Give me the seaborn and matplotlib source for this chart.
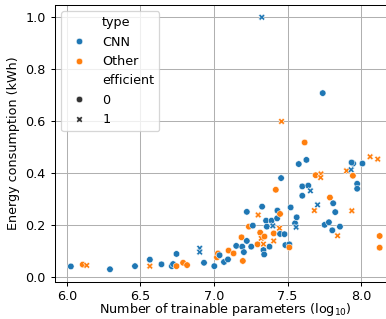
import matplotlib

matplotlib.use("Agg")
import matplotlib.pyplot as plt
import pandas as pd
import seaborn as sns

# log10 of trainable parameters, energy (kWh), model family, efficient flag
log_params = [
    6.027, 6.108, 6.135, 6.293, 6.463, 6.564, 6.564, 6.643, 6.713, 6.722,
    6.745, 6.745, 6.790, 6.817, 6.903, 6.903, 6.932, 7.002, 7.020, 7.027,
    7.038, 7.068, 7.095, 7.099, 7.133, 7.151, 7.187, 7.192, 7.196, 7.203,
    7.223, 7.223, 7.237, 7.264, 7.253, 7.300, 7.296, 7.314, 7.327, 7.321,
    7.343, 7.336, 7.341, 7.354, 7.359, 7.391, 7.377, 7.400, 7.406, 7.406,
    7.429, 7.431, 7.420, 7.445, 7.449, 7.456, 7.479, 7.485, 7.512, 7.512,
    7.521, 7.551, 7.562, 7.558, 7.576, 7.600, 7.600, 7.616, 7.628, 7.641,
    7.655, 7.691, 7.727, 7.725, 7.682, 7.704, 7.788, 7.810, 7.824, 7.752,
    7.781, 7.804, 7.840, 7.856, 7.937, 7.901, 7.932, 7.946, 7.935, 7.944,
    7.973, 7.973, 8.009, 8.061, 8.113, 8.126, 8.126, 7.449, 7.336, 7.325,
    7.739, 7.459,
]
energy_kwh = [
    0.041, 0.048, 0.045, 0.030, 0.042, 0.042, 0.067, 0.049, 0.042, 0.050,
    0.042, 0.089, 0.055, 0.046, 0.111, 0.096, 0.055, 0.042, 0.076, 0.091,
    0.084, 0.058, 0.068, 0.102, 0.091, 0.120, 0.153, 0.117, 0.062, 0.096,
    0.139, 0.251, 0.194, 0.198, 0.117, 0.239, 0.126, 0.171, 0.271, 0.149,
    0.156, 0.104, 0.087, 0.217, 0.194, 0.217, 0.117, 0.197, 0.168, 0.139,
    0.226, 0.256, 0.336, 0.188, 0.166, 0.381, 0.165, 0.123, 0.126, 0.114,
    0.268, 0.207, 0.230, 0.192, 0.435, 0.349, 0.313, 0.518, 0.451, 0.352,
    0.332, 0.392, 0.397, 0.383, 0.256, 0.278, 0.306, 0.284, 0.250, 0.201,
    0.211, 0.180, 0.159, 0.194, 0.255, 0.409, 0.413, 0.437, 0.441, 0.390,
    0.359, 0.340, 0.437, 0.463, 0.454, 0.158, 0.113, 0.243, 0.127, 1.000,
    0.708, 0.599,
]
model_type = [
    "CNN", "Other", "Other", "CNN", "CNN", "Other", "CNN", "CNN", "CNN", "CNN",
    "Other", "CNN", "Other", "Other", "CNN", "CNN", "CNN", "CNN", "Other", "Other",
    "CNN", "CNN", "CNN", "Other", "Other", "CNN", "Other", "CNN", "Other", "CNN",
    "CNN", "CNN", "Other", "CNN", "CNN", "Other", "Other", "Other", "CNN", "Other",
    "Other", "CNN", "CNN", "CNN", "CNN", "CNN", "CNN", "CNN", "Other", "Other",
    "CNN", "CNN", "Other", "Other", "CNN", "CNN", "CNN", "CNN", "CNN", "Other",
    "CNN", "CNN", "CNN", "CNN", "CNN", "CNN", "CNN", "Other", "CNN", "CNN",
    "CNN", "Other", "Other", "Other", "Other", "CNN", "Other", "CNN", "CNN", "CNN",
    "CNN", "CNN", "Other", "CNN", "Other", "Other", "CNN", "CNN", "CNN", "Other",
    "CNN", "CNN", "CNN", "Other", "Other", "Other", "Other", "Other", "Other", "CNN",
    "CNN", "Other",
]
efficient = [
    0, 0, 1, 0, 0, 1, 0, 0, 0, 0,
    0, 0, 0, 0, 1, 1, 0, 0, 0, 0,
    0, 0, 0, 0, 0, 0, 0, 0, 0, 0,
    0, 0, 0, 0, 0, 1, 0, 0, 0, 1,
    0, 0, 0, 0, 0, 0, 0, 1, 0, 1,
    0, 0, 0, 1, 0, 0, 0, 0, 0, 0,
    0, 0, 0, 1, 0, 0, 0, 0, 0, 0,
    1, 0, 1, 1, 1, 1, 0, 0, 0, 0,
    0, 0, 1, 0, 1, 1, 1, 0, 0, 0,
    0, 0, 0, 1, 1, 0, 0, 0, 1, 1,
    0, 1,
]

df = pd.DataFrame({
    "log_params": log_params,
    "energy": energy_kwh,
    "type": model_type,
    "efficient": efficient,
})

plt.rcParams["font.family"] = "DejaVu Sans"
DPI = 92
fig = plt.figure(figsize=(386 / DPI, 319 / DPI), dpi=DPI)
ax = fig.add_axes([0.142, 0.116, 0.882, 0.869])
ax.grid(True, zorder=0)
ax.set_axisbelow(True)

sns.scatterplot(
    data=df,
    x="log_params",
    y="energy",
    hue="type",
    hue_order=["CNN", "Other"],
    style="efficient",
    s=26,
    ax=ax,
)
ax.legend(loc="upper left")
ax.set_xlim(5.918, 8.232)
ax.set_ylim(-0.019, 1.048)
ax.set_xticks([6.0, 6.5, 7.0, 7.5, 8.0])
ax.set_yticks([0.0, 0.2, 0.4, 0.6, 0.8, 1.0])
ax.tick_params(axis="x", pad=2.5)
ax.set_xlabel("Number of trainable parameters (log$_{10}$)", labelpad=-1.0)
ax.set_ylabel("Energy consumption (kWh)")

fig.savefig("out.png", dpi=DPI)
plt.close(fig)
